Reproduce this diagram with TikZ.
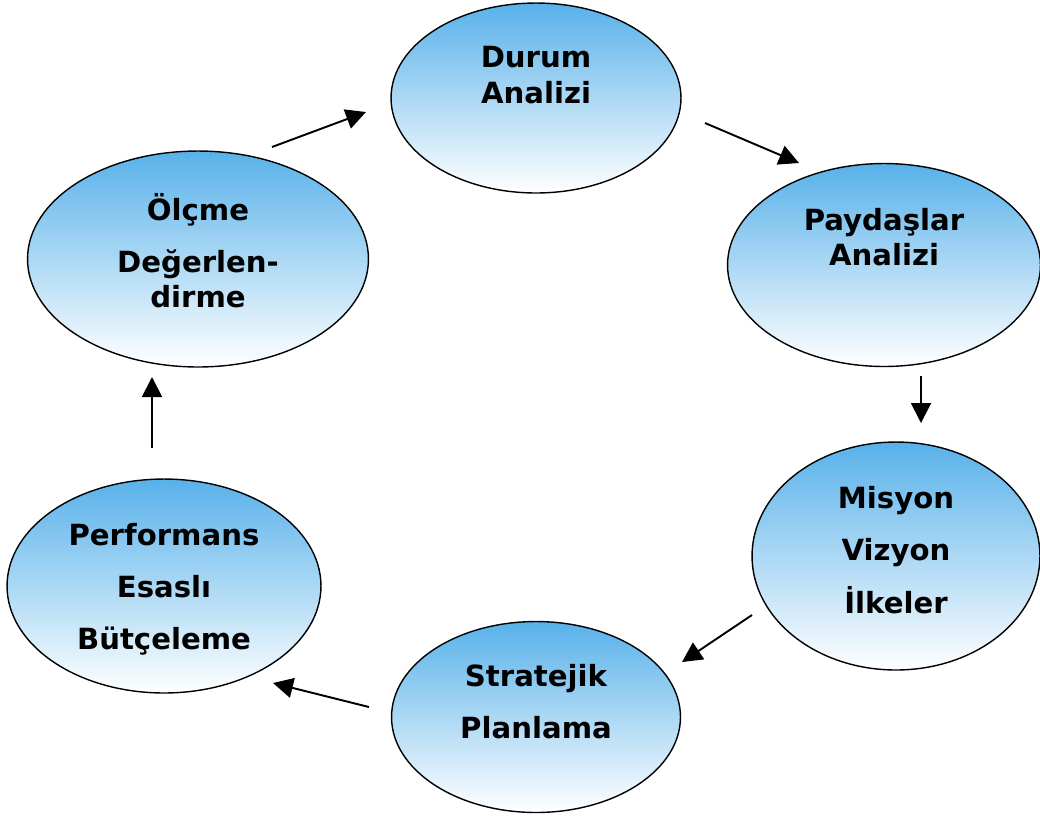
\documentclass[tikz,border=0pt]{standalone}
\usepackage{fontspec}
\setmainfont{DejaVu Sans}
\usetikzlibrary{shapes.geometric,arrows.meta}

\definecolor{skyblue}{HTML}{58B1EA}

\begin{document}
\begin{tikzpicture}[x=0.02cm, y=-0.02cm,
    cycle/.style={draw, ellipse, line width=0.8pt, inner sep=0pt, shading=axis, top color=skyblue, bottom color=white},
    caption/.style={align=center, font=\fontsize{16.6}{20}\selectfont\bfseries},
    flow/.style={line width=1.1pt, -{Triangle[length=0.4cm, width=0.4cm]}}]

    \useasboundingbox (0,0) rectangle (1040,816);

    % Draw the ellipses
    \node[cycle, minimum width=5.8cm, minimum height=3.8cm] (durum) at (536,98) {};
    \node[cycle, minimum width=6.26cm, minimum height=4.06cm] (paydas) at (884,265) {};
    \node[cycle, minimum width=5.76cm, minimum height=4.56cm] (misyon) at (896,556) {};
    \node[cycle, minimum width=5.78cm, minimum height=3.82cm] (strateji) at (536,717) {};
    \node[cycle, minimum width=6.28cm, minimum height=4.28cm] (butce) at (164,586) {};
    \node[cycle, minimum width=6.82cm, minimum height=4.32cm] (olcme) at (198,259) {};

    % Label the ellipses
    \node[caption] (durumtxt) at (536,75) {Durum\\Analizi};
    \node[caption] (paydastxt) at (884,237) {Paydaşlar\\Analizi};
    \node[caption] (misyontxt) at (896,550) {Misyon\\[9.7pt]Vizyon\\[9.7pt]İlkeler};
    \node[caption] (stratejitxt) at (536,702) {Stratejik\\[9.7pt]Planlama};
    \node[caption] (butcetxt) at (164,589) {Performans\\[9.7pt]Esaslı\\[9.7pt]Bütçeleme};
    \node[caption] (olcmetxt) at (198,251) {Ölçme\\[9.7pt]Değerlen-\\dirme};

    % Arrow ends
    \coordinate (p1) at (272,147); \coordinate (q1) at (366,112);
    \coordinate (p2) at (705,123); \coordinate (q2) at (799,163);
    \coordinate (p3) at (921,376); \coordinate (q3) at (921,423);
    \coordinate (p4) at (752,615); \coordinate (q4) at (682,662);
    \coordinate (p5) at (369,707); \coordinate (q5) at (273,683);
    \coordinate (p6) at (152,448); \coordinate (q6) at (152,377);

    % Draw the arrows
    \foreach \i in {1,...,6}
        \draw[flow] (p\i) -- (q\i);

\end{tikzpicture}
\end{document}
